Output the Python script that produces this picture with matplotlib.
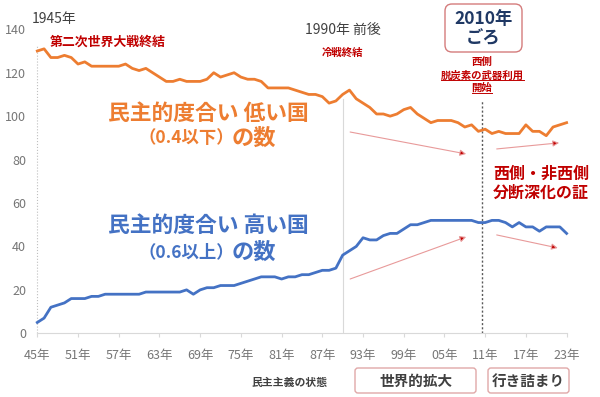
import matplotlib
matplotlib.use("Agg")
import matplotlib.pyplot as plt
from matplotlib.patches import FancyBboxPatch
from matplotlib.lines import Line2D

plt.rcParams["font.family"] = ["Noto Sans CJK JP", "DejaVu Sans"]

# --- data ---
years = list(range(1945, 2024))
low_demo = [
    130, 131, 127, 127, 128, 127, 124, 125, 123, 123,   # 1945-1954
    123, 123, 123, 124, 122, 121, 122, 120, 118, 116,   # 1955-1964
    116, 117, 116, 116, 116, 117, 120, 118, 119, 120,   # 1965-1974
    118, 117, 117, 116, 113, 113, 113, 113, 112, 111,   # 1975-1984
    110, 110, 109, 106, 107, 110, 112, 108, 106, 104,   # 1985-1994
    101, 101, 100, 101, 103, 104, 101, 99, 97, 98,      # 1995-2004
    98, 98, 97, 95, 96, 93, 94, 92, 93, 92,             # 2005-2014
    92, 92, 96, 93, 93, 91, 95, 96, 97,                 # 2015-2023
]
high_demo = [
    5, 7, 12, 13, 14, 16, 16, 16, 17, 17,               # 1945-1954
    18, 18, 18, 18, 18, 18, 19, 19, 19, 19,             # 1955-1964
    19, 19, 20, 18, 20, 21, 21, 22, 22, 22,             # 1965-1974
    23, 24, 25, 26, 26, 26, 25, 26, 26, 27,             # 1975-1984
    27, 28, 29, 29, 30, 36, 38, 40, 44, 43,             # 1985-1994
    43, 45, 46, 46, 48, 50, 50, 51, 52, 52,             # 1995-2004
    52, 52, 52, 52, 52, 51, 51, 52, 52, 51,             # 2005-2014
    49, 51, 49, 49, 47, 49, 49, 49, 46,                 # 2015-2023
]
tick_years = list(range(1945, 2024, 6))
tick_labels = [f"{y % 100:02d}年" for y in tick_years]
y_ticks = [0, 20, 40, 60, 80, 100, 120, 140]
cold_war_end = 1990
split_year = 2010.5

ORANGE = "#ed7d31"
BLUE = "#4472c4"
RED = "#c00000"
GRAY = "#767676"
DARK = "#404040"
W, H = 600, 397

fig = plt.figure(figsize=(W / 100, H / 100), dpi=100)
fig.patch.set_facecolor("white")

# main chart area, placed in pixels of the reference
ax = fig.add_axes([37.3 / W, 1 - 333.3 / H, 529.3 / W, 304 / H])
ax.plot(years, low_demo, color=ORANGE, lw=2, clip_on=False, zorder=3)
ax.plot(years, high_demo, color=BLUE, lw=2, clip_on=False, zorder=3)

ax.set_xlim(1945, 2023)
ax.set_ylim(0, 140)
ax.set_xticks(tick_years)
ax.set_xticklabels(tick_labels)
ax.set_yticks(y_ticks)
for s in ["top", "right", "left"]:
    ax.spines[s].set_visible(False)
ax.spines["bottom"].set_color("#d9d9d9")
ax.tick_params(axis="y", length=0, pad=8, labelcolor=GRAY, labelsize=9)
ax.tick_params(axis="x", length=3, color="#d9d9d9", pad=8, labelcolor=GRAY, labelsize=9)

# reference lines
ax.plot([1945, 1945], [0, 133], ls=":", color="#bfbfbf", lw=0.8, clip_on=False)
ax.plot([cold_war_end, cold_war_end], [0, 108], color="#d9d9d9", lw=0.8)
ax.plot([split_year, split_year], [0, 107], ls=(0, (1.5, 1.5)), color="#595959", lw=1.0)

# trend arrows
arrow_kw = dict(arrowstyle="-|>", edgecolor="#e89a9a", facecolor=RED, lw=0.8,
                mutation_scale=9, shrinkA=0, shrinkB=0)
ax.annotate("", xy=(2008.2, 82.6), xytext=(1991.1, 92.7), arrowprops=arrow_kw)
ax.annotate("", xy=(2021.9, 87.7), xytext=(2012.7, 84.9), arrowprops=arrow_kw)
ax.annotate("", xy=(2008.2, 44.4), xytext=(1991.1, 25.0), arrowprops=arrow_kw)
ax.annotate("", xy=(2021.7, 39.3), xytext=(2012.7, 45.3), arrowprops=arrow_kw)

# overlay in pixel coords for the labels and boxes
ov = fig.add_axes([0, 0, 1, 1], zorder=5)
ov.set_xlim(0, W)
ov.set_ylim(H, 0)
ov.axis("off")

ov.text(32, 19, "1945年", fontsize=10, color=DARK, va="center")
ov.text(50, 42, "第二次世界大戦終結", fontsize=9.3, color=RED, weight="bold", va="center")
ov.text(305, 30, "1990年 前後", fontsize=10, color=DARK, va="center")
ov.text(342, 53, "冷戦終結", fontsize=7.5, color=RED, weight="bold", va="center", ha="center")

ov.add_patch(FancyBboxPatch((445, 4), 77, 48, boxstyle="round,pad=0,rounding_size=7",
                            facecolor="white", edgecolor="#d47c7c", lw=1))
ov.text(483.5, 19, "2010年", fontsize=12.5, color="#1f3864", weight="bold", ha="center", va="center")
ov.text(483.5, 38, "ごろ", fontsize=12.5, color="#1f3864", weight="bold", ha="center", va="center")

note = [
    ov.text(482, 62, "西側", fontsize=7.5, color=RED, weight="bold", ha="center", va="center"),
    ov.text(482, 75, "脱炭素の武器利用", fontsize=7.5, color=RED, weight="bold", ha="center", va="center"),
    ov.text(482, 88, "開始", fontsize=7.5, color=RED, weight="bold", ha="center", va="center"),
]

ov.text(108, 113, "民主的度合い 低い国", fontsize=15.7, color=ORANGE, weight="bold", va="center")
ov.text(234, 138, "（0.4以下）", fontsize=12.5, color=ORANGE, weight="bold", va="center", ha="right")
ov.text(232, 138, "の数", fontsize=16, color=ORANGE, weight="bold", va="center")
ov.text(108, 225, "民主的度合い 高い国", fontsize=15.7, color=BLUE, weight="bold", va="center")
ov.text(234, 252, "（0.6以上）", fontsize=12.5, color=BLUE, weight="bold", va="center", ha="right")
ov.text(232, 252, "の数", fontsize=16, color=BLUE, weight="bold", va="center")

ov.text(493, 174, "西側・非西側", fontsize=11.5, color=RED, weight="bold", va="center")
ov.text(493, 193, "分断深化の証", fontsize=11.5, color=RED, weight="bold", va="center")

ov.text(290, 383, "民主主義の状態", fontsize=7.8, color=DARK, weight="bold", ha="center", va="center")
for (x0, x1), label in [((355, 476), "世界的拡大"), ((488, 569), "行き詰まり")]:
    ov.add_patch(FancyBboxPatch((x0, 368), x1 - x0, 25, boxstyle="round,pad=0,rounding_size=3",
                                facecolor="white", edgecolor="#e0a8a8", lw=1))
    ov.text((x0 + x1) / 2, 381, label, fontsize=10.5, color=DARK, weight="bold",
            ha="center", va="center")

# underline the last two note lines
fig.canvas.draw()
renderer = fig.canvas.get_renderer()
inv = ov.transData.inverted()
for t in note[1:]:
    bb = t.get_window_extent(renderer)
    (xa, ya), (xb, yb) = inv.transform([(bb.x0, bb.y0), (bb.x1, bb.y1)])
    ov.add_line(Line2D([xa, xb], [ya - 0.5, ya - 0.5], color=RED, lw=0.7))

fig.savefig("out.png", dpi=100)
